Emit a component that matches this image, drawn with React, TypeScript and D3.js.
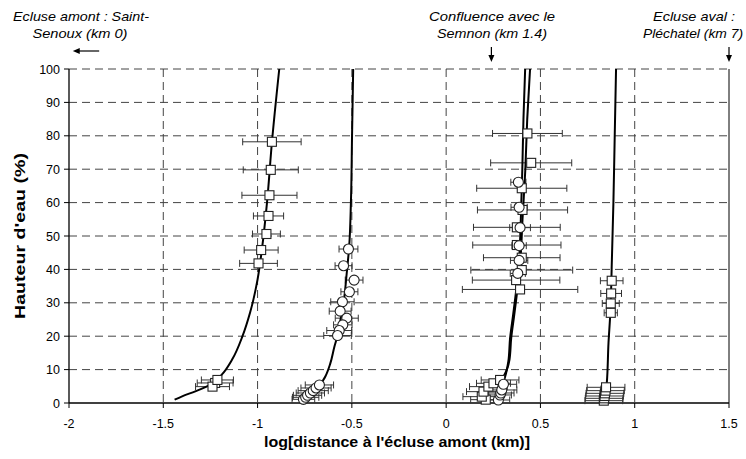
import React from 'react';
import * as d3 from 'd3';

// ---- axis ticks ----
const xTicks = [-2, -1.5, -1, -0.5, 0, 0.5, 1, 1.5];
const xGrid = [-1.5, -1, -0.5, 0, 0.5, 1];
const yTicks = [0, 10, 20, 30, 40, 50, 60, 70, 80, 90, 100];
const yGrid = [10, 20, 30, 40, 50, 60, 70, 80, 90, 100];

// ---- observations: [log distance, water height %, x error] ----
const squaresA: number[][] = [
  [-0.924, 78.2, 0.155], [-0.930, 69.8, 0.146], [-0.937, 62.2, 0.146],
  [-0.942, 56.0, 0.080], [-0.953, 50.6, 0.074], [-0.981, 45.8, 0.090],
  [-0.995, 41.8, 0.100],
  [-1.225, 6.0, 0.095], [-1.239, 4.9, 0.090], [-1.213, 6.9, 0.085],
];
const circlesB: number[][] = [
  [-0.518, 46.1, 0.050], [-0.544, 41.1, 0.045], [-0.488, 36.8, 0.047],
  [-0.513, 33.3, 0.045], [-0.550, 30.3, 0.062], [-0.562, 27.5, 0.058],
  [-0.527, 25.4, 0.061], [-0.548, 23.4, 0.049], [-0.567, 21.7, 0.066],
  [-0.576, 20.2, 0.073],
  [-0.757, 1.1, 0.06], [-0.745, 1.7, 0.07], [-0.735, 2.3, 0.075],
  [-0.720, 3.0, 0.075], [-0.705, 3.7, 0.08], [-0.690, 4.5, 0.08], [-0.672, 5.4, 0.075],
];
const squaresC: number[][] = [
  [0.431, 80.7, 0.185], [0.451, 71.9, 0.215], [0.401, 64.3, 0.239],
  [0.405, 57.8, 0.239], [0.375, 52.6, 0.230], [0.375, 47.3, 0.234],
  [0.401, 43.5, 0.203], [0.401, 39.8, 0.270], [0.371, 36.8, 0.232],
  [0.392, 34.0, 0.306],
  [0.210, 1.0, 0.08], [0.189, 1.9, 0.10], [0.198, 3.4, 0.09],
  [0.224, 4.9, 0.10], [0.251, 5.9, 0.09], [0.286, 6.9, 0.10],
];
const circlesD: number[][] = [
  [0.383, 66.1, 0.040], [0.387, 58.6, 0.043], [0.392, 52.5, 0.055],
  [0.387, 47.1, 0.038], [0.387, 42.7, 0.046], [0.380, 38.8, 0.040],
  [0.277, 0.9, 0.06], [0.286, 2.4, 0.06], [0.290, 3.0, 0.07],
  [0.295, 3.9, 0.08], [0.304, 5.6, 0.07],
];
const squaresE: number[][] = [
  [0.878, 36.6, 0.060], [0.875, 32.8, 0.055], [0.873, 29.8, 0.045],
  [0.873, 27.0, 0.035],
  [0.836, 0.7, 0.10], [0.838, 1.4, 0.10], [0.840, 2.1, 0.10],
  [0.842, 2.9, 0.10], [0.845, 3.7, 0.10], [0.848, 4.7, 0.10],
];

// ---- fitted curves: [log distance, water height %] ----
const curveA: number[][] = [
  [-1.44, 1], [-1.40, 2], [-1.33, 3.5], [-1.25, 5.5], [-1.19, 8.5], [-1.135, 13],
  [-1.08, 20], [-1.04, 27], [-1.0, 37], [-0.977, 46], [-0.95, 60], [-0.924, 78], [-0.885, 100],
];
const curveB: number[][] = [
  [-0.668, 5.4], [-0.64, 8], [-0.615, 11.7], [-0.592, 17], [-0.576, 20.2], [-0.56, 25],
  [-0.544, 30], [-0.527, 39], [-0.514, 47], [-0.505, 60], [-0.499, 80], [-0.493, 100],
];
const curveD: number[][] = [
  [0.30, 5.5], [0.318, 9], [0.33, 12.5], [0.339, 19.4], [0.355, 26.3], [0.372, 34],
  [0.387, 43], [0.396, 55], [0.404, 70], [0.41, 85], [0.419, 100],
];
const curveC: number[][] = [
  [0.295, 7], [0.322, 10], [0.336, 13], [0.345, 19.4], [0.361, 26.3], [0.378, 34],
  [0.394, 43], [0.405, 55], [0.42, 70], [0.43, 85], [0.445, 100],
];
const curveE: number[][] = [
  [0.85, 4.7], [0.852, 6], [0.861, 18], [0.87, 26.3], [0.879, 43], [0.887, 60],
  [0.894, 80], [0.901, 100],
];

const FONT = "Arial, 'Liberation Sans', sans-serif";

export default function App() {
  const W = 746, H = 459;
  const x = d3.scaleLinear().domain([-2, 1.5]).range([69, 729]);
  const y = d3.scaleLinear().domain([0, 100]).range([403, 69]);
  const line = d3.line<number[]>()
    .x(d => x(d[0]))
    .y(d => y(d[1]))
    .curve(d3.curveMonotoneY);

  const errBars = (data: number[][], key: string) =>
    data.map((d, i) => {
      const yy = y(d[1]);
      const x0 = x(d[0] - d[2]);
      const x1 = x(d[0] + d[2]);
      return (
        <g key={key + i} stroke="#333" strokeWidth={1}>
          <line x1={x0} x2={x1} y1={yy} y2={yy} />
          <line x1={x0} x2={x0} y1={yy - 3.5} y2={yy + 3.5} />
          <line x1={x1} x2={x1} y1={yy - 3.5} y2={yy + 3.5} />
        </g>
      );
    });
  const squares = (data: number[][], key: string) =>
    data.map((d, i) => (
      <rect key={key + i} x={x(d[0]) - 4.5} y={y(d[1]) - 4.5} width={9} height={9}
        fill="#fff" stroke="#222" strokeWidth={1.1} />
    ));
  const circles = (data: number[][], key: string) =>
    data.map((d, i) => (
      <circle key={key + i} cx={x(d[0])} cy={y(d[1])} r={5}
        fill="#fff" stroke="#222" strokeWidth={1.1} />
    ));

  const arrowHead = (tx: number, ty: number, dir: 'down' | 'left') =>
    dir === 'down'
      ? `M${tx},${ty} L${tx - 3},${ty - 7} L${tx + 3},${ty - 7} Z`
      : `M${tx},${ty} L${tx + 7},${ty - 3} L${tx + 7},${ty + 3} Z`;

  return (
    <svg width={W} height={H} style={{ position: 'absolute', left: 0, top: 0, background: '#fff' }}
      fontFamily={FONT}>
      <rect x={0} y={0} width={W} height={H} fill="#fff" />
      {/* grid */}
      {yGrid.map(v => (
        <line key={'hg' + v} x1={x(-2)} x2={x(1.5)} y1={y(v)} y2={y(v)}
          stroke="#444" strokeWidth={1} strokeDasharray="8,5" />
      ))}
      {xGrid.map(v => (
        <line key={'vg' + v} x1={x(v)} x2={x(v)} y1={y(100)} y2={y(0)}
          stroke="#444" strokeWidth={1} strokeDasharray="8,5" />
      ))}
      {/* right border */}
      <line x1={x(1.5)} x2={x(1.5)} y1={y(100)} y2={y(0)} stroke="#000" strokeWidth={1} />
      {/* axes */}
      <line x1={x(-2)} x2={x(-2)} y1={y(100)} y2={y(0)} stroke="#000" strokeWidth={1.3} />
      <line x1={x(-2)} x2={x(1.5)} y1={y(0)} y2={y(0)} stroke="#000" strokeWidth={1.5} />
      {yTicks.map(v => (
        <g key={'yt' + v}>
          <line x1={x(-2) - 5} x2={x(-2)} y1={y(v)} y2={y(v)} stroke="#000" />
          <text x={x(-2) - 9} y={y(v) + 4.5} textAnchor="end" fontSize={12.5}>{v}</text>
        </g>
      ))}
      {xTicks.map(v => (
        <g key={'xt' + v}>
          <line x1={x(v)} x2={x(v)} y1={y(0)} y2={y(0) + 5} stroke="#000" />
          <text x={x(v)} y={428} textAnchor="middle" fontSize={12.5}>{v}</text>
        </g>
      ))}
      {/* axis titles */}
      <text x={397} y={447} textAnchor="middle" fontSize={14.5} fontWeight="bold"
        textLength={266} lengthAdjust="spacingAndGlyphs">
        log[distance à l'écluse amont (km)]
      </text>
      <text transform={`translate(25,${y(50)}) rotate(-90)`} textAnchor="middle"
        fontSize={14.5} fontWeight="bold" textLength={166} lengthAdjust="spacingAndGlyphs">
        Hauteur d'eau (%)
      </text>

      {/* error bars */}
      {errBars(squaresA, 'ea')}
      {errBars(circlesB, 'eb')}
      {errBars(squaresC, 'ec')}
      {errBars(circlesD, 'ed')}
      {errBars(squaresE, 'ee')}

      {/* curves */}
      {[curveA, curveB, curveC, curveD, curveE].map((c, i) => (
        <path key={'c' + i} d={line(c) || ''} fill="none" stroke="#000" strokeWidth={2} />
      ))}

      {/* markers */}
      {squares(squaresA, 'sa')}
      {circles(circlesB, 'sb')}
      {squares(squaresC, 'sc')}
      {circles(circlesD, 'sd')}
      {squares(squaresE, 'se')}

      {/* annotations */}
      <g fontStyle="italic" fontSize={13} textAnchor="middle" lengthAdjust="spacingAndGlyphs">
        <text x={81} y={21} textLength={136} lengthAdjust="spacingAndGlyphs">Ecluse amont : Saint-</text>
        <text x={80} y={38} textLength={95} lengthAdjust="spacingAndGlyphs">Senoux (km 0)</text>
        <text x={492} y={21} textLength={126} lengthAdjust="spacingAndGlyphs">Confluence avec le</text>
        <text x={492} y={38} textLength={110} lengthAdjust="spacingAndGlyphs">Semnon (km 1.4)</text>
        <text x={694} y={21} textLength={82} lengthAdjust="spacingAndGlyphs">Ecluse aval :</text>
        <text x={693} y={38} textLength={100} lengthAdjust="spacingAndGlyphs">Pléchatel (km 7)</text>
      </g>
      <line x1={x(-1.84)} x2={x(-1.96)} y1={51} y2={51} stroke="#000" strokeWidth={1.2} />
      <path d={arrowHead(x(-1.98), 51, 'left')} fill="#000" />
      <line x1={x(0.24)} x2={x(0.24)} y1={47} y2={56} stroke="#000" strokeWidth={1.2} />
      <path d={arrowHead(x(0.24), 62, 'down')} fill="#000" />
      <line x1={x(1.5)} x2={x(1.5)} y1={47} y2={56} stroke="#000" strokeWidth={1.2} />
      <path d={arrowHead(x(1.5), 62, 'down')} fill="#000" />
    </svg>
  );
}
